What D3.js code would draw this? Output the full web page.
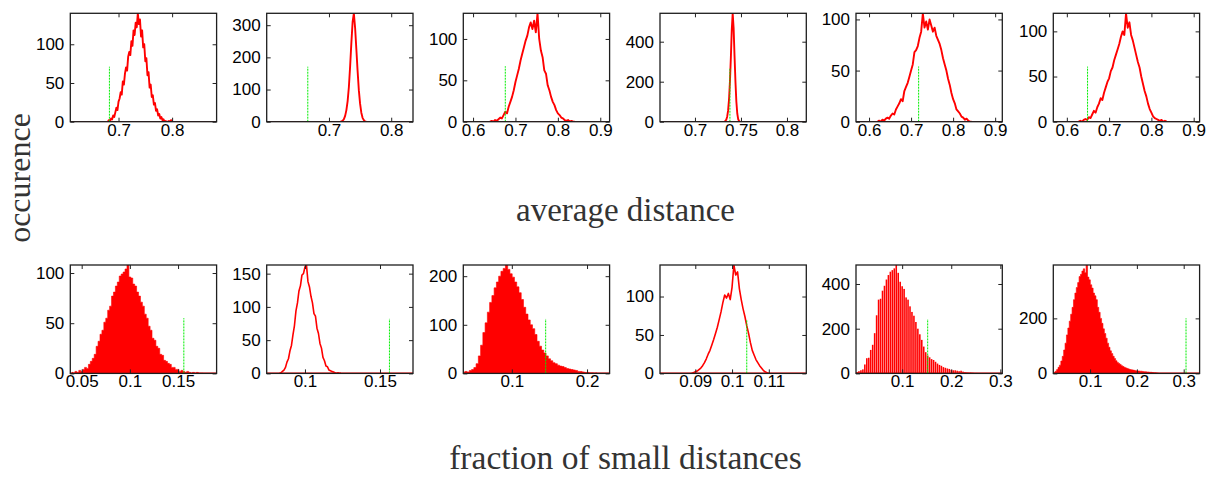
<!DOCTYPE html>
<html>
<head>
<meta charset="utf-8">
<script src="https://cdn.jsdelivr.net/npm/d3@7"></script>
<style>
  html, body { margin: 0; padding: 0; background: #fff; }
  svg { display: block; }
</style>
</head>
<body>
<svg id="fig" width="1206" height="477"></svg>
<script>
// ---------- Average distance: histogram counts per network ----------
const avgStart = [0.680, 0.718, 0.640, 0.732, 0.620, 0.628];
const avgStep  = [0.002, 0.002, 0.004, 0.001, 0.004, 0.004];
const avgCounts1 = [0,2,1,4,3,8,6,12,18,15,26,30,38,35,52,48,62,70,66,84,90,86,104,98,118,112,128,122,140,126,132,110,118,96,100,78,82,60,64,44,48,32,34,22,24,14,16,8,10,4,6,2,3,0,1,0,0,1,0,2,0];
const avgCounts2 = [0,1,3,8,18,36,64,108,172,245,310,337,292,226,158,98,56,28,12,5,1,0];
const avgCounts3 = [0,1,0,2,1,3,5,4,8,12,10,18,24,30,38,48,56,64,74,82,90,98,104,114,120,112,122,108,131,100,86,78,62,58,44,38,30,24,20,14,10,8,5,4,2,1,2,0,1,0,0];
const avgCounts4 = [0,3,10,25,55,110,200,320,460,542,470,330,200,100,40,12,3,0];
const avgCounts5 = [0,1,0,2,1,3,4,3,6,8,7,12,15,18,22,20,30,34,38,44,50,56,68,70,74,82,88,106,92,98,90,100,94,88,92,84,80,76,70,62,56,50,42,36,28,22,18,12,10,8,5,4,2,3,1,0,0];
const avgCounts6 = [0,1,0,2,3,2,5,4,8,12,10,16,20,26,24,32,38,44,48,56,60,68,74,80,86,94,100,96,120,104,110,96,90,82,74,66,60,50,42,34,28,20,14,10,6,4,3,2,1,2,0,1,0];
const avgXLim = [[0.610,0.883],[0.600,0.835],[0.577,0.922],[0.662,0.821],[0.569,0.917],[0.568,0.914]];
const avgYMax = [140, 337, 131, 542, 106, 120];
const avgXTicks = [[0.7,0.8],[0.7,0.8],[0.6,0.7,0.8,0.9],[0.7,0.75,0.8],[0.6,0.7,0.8,0.9],[0.6,0.7,0.8,0.9]];
const avgYTicks = [[0,50,100],[0,100,200,300],[0,50,100],[0,200,400],[0,50,100],[0,50,100]];
// observed value of the real network and the height of its marker
const avgObserved = [0.683, 0.666, 0.676, 0.738, 0.718, 0.649];
const avgObservedMark = [71, 171, 67, 267, 54, 61];

// ---------- Fraction of small distances ----------
const fracStart = [0.040, 0.083, 0.036, 0.0890, 0.008, 0.024];
const fracStep  = [0.002, 0.001, 0.003, 0.0005, 0.004, 0.003];
const fracCounts1 = [1,0,2,1,3,2,4,6,5,9,12,15,19,27,32,39,43,51,55,63,67,77,81,87,91,97,99,101,104,108,96,95,89,87,81,77,71,67,59,55,47,43,35,33,27,25,19,18,13,12,10,9,6,6,4,4,2,3,2,1,2,1,0,1,0,1,0,0,0];
const fracCounts2 = [0,1,3,5,9,17,22,34,42,58,72,94,106,124,132,148,150,160,163,138,130,116,106,90,86,68,60,45,38,24,19,11,10,5,4,3,2,1,0,1,0,0];
const fracCounts3 = [2,4,3,6,8,12,20,36,58,84,104,126,146,160,176,188,200,210,216,223,214,205,198,188,178,166,152,136,122,110,100,92,80,66,56,48,42,36,30,26,22,20,17,15,14,12,10,9,8,7,6,4,4,3,2,2,1,1,0,1];
const fracCounts4 = [0,1,2,3,5,7,10,14,19,25,30,37,44,52,60,70,80,92,102,98,104,96,112,141,128,132,110,96,84,74,62,52,40,30,24,18,14,10,7,4,2,1,0];
const fracCounts5 = [6,10,14,18,40,68,70,105,128,180,260,330,334,370,392,420,440,455,462,470,485,450,410,390,378,340,330,300,275,258,230,200,175,150,120,95,80,72,64,60,52,44,38,34,28,25,22,20,16,14,14,12,10,12,8,6,5,4,4,3,2,2,1,1];
const fracCounts6 = [4,8,14,22,30,45,62,85,110,140,165,190,215,240,268,292,312,330,352,360,372,380,366,394,350,340,322,310,292,282,268,240,222,200,182,162,145,128,110,95,82,72,62,54,46,40,36,32,28,25,22,20,18,16,14,13,12,11,10,9,9,8,8,7,6,6,5,5,4,4,3,2,2,1,1];
const fracXLim = [[0.0382,0.190],[0.0745,0.172],[0.0355,0.230],[0.0804,0.1202],[0.006,0.304],[0.0214,0.334]];
const fracYMax = [108, 163, 223, 141, 485, 394];
const fracXTicks = [[0.05,0.1,0.15],[0.1,0.15],[0.1,0.2],[0.09,0.1,0.11],[0.1,0.2,0.3],[0.1,0.2,0.3]];
const fracYTicks = [[0,50,100],[0,50,100,150],[0,100,200],[0,50,100],[0,200,400],[0,200]];
const fracObserved = [0.156, 0.1563, 0.145, 0.104, 0.152, 0.305];
const fracObservedMark = [55, 82, 112, 70, 243, 200];
const fracStyle = ["area", "line", "area", "line", "bars", "area"];

// ---------- layout ----------
const panelLeft = [70.3, 266.7, 463.3, 660, 856, 1053.3];
const panelW = 146.3, panelH = 108.4;
const rowTop = [13.3, 265];

const avgSeries = [avgCounts1, avgCounts2, avgCounts3, avgCounts4, avgCounts5, avgCounts6];
const fracSeries = [fracCounts1, fracCounts2, fracCounts3, fracCounts4, fracCounts5, fracCounts6];

const panels = [];
avgSeries.forEach((counts, i) => panels.push({
  row: 0, col: i, counts, start: avgStart[i], step: avgStep[i], style: "line",
  xlim: avgXLim[i], ymax: avgYMax[i], xticks: avgXTicks[i], yticks: avgYTicks[i],
  obs: avgObserved[i], obsMark: avgObservedMark[i]
}));
fracSeries.forEach((counts, i) => panels.push({
  row: 1, col: i, counts, start: fracStart[i], step: fracStep[i], style: fracStyle[i],
  xlim: fracXLim[i], ymax: fracYMax[i], xticks: fracXTicks[i], yticks: fracYTicks[i],
  obs: fracObserved[i], obsMark: fracObservedMark[i]
}));

const svg = d3.select("#fig");
const fmt = v => String(+v.toFixed(4));
const RED = "#ff0000";
const tickFont = "'Liberation Sans', Arial, sans-serif";

panels.forEach((p, k) => {
  const g = svg.append("g")
    .attr("transform", `translate(${panelLeft[p.col]},${rowTop[p.row]})`);
  const x = d3.scaleLinear().domain(p.xlim).range([0, panelW]);
  const y = d3.scaleLinear().domain([0, p.ymax]).range([panelH, 0]);

  const clipId = "clip" + k;
  g.append("clipPath").attr("id", clipId)
    .append("rect").attr("x", 0).attr("y", 0).attr("width", panelW).attr("height", panelH);
  const plot = g.append("g").attr("clip-path", `url(#${clipId})`);

  const bins = p.counts.map((c, i) => ({ v: p.start + i * p.step, c }));

  // histogram is zero outside the sampled range
  plot.append("line")
    .attr("x1", x(p.xlim[0])).attr("x2", x(p.xlim[1]))
    .attr("y1", y(0)).attr("y2", y(0))
    .attr("stroke", RED).attr("stroke-width", 1.6);

  if (p.style === "line") {
    plot.append("path").datum(bins)
      .attr("fill", "none").attr("stroke", RED)
      .attr("stroke-width", p.row === 0 ? 1.9 : 1.6).attr("stroke-linejoin", "round")
      .attr("d", d3.line().x(d => x(d.v)).y(d => y(d.c)));
  } else if (p.style === "area") {
    plot.append("path").datum(bins)
      .attr("fill", RED).attr("stroke", RED).attr("stroke-width", 0.6)
      .attr("d", d3.area().curve(d3.curveStep)
        .x(d => x(d.v)).y0(y(0)).y1(d => y(d.c)));
  } else {
    const bw = x(p.xlim[0] + p.step) - x(p.xlim[0]);
    plot.selectAll("rect.bar").data(bins).join("rect")
      .attr("class", "bar")
      .attr("x", d => x(d.v) - bw * 0.4)
      .attr("width", bw * 0.8)
      .attr("y", d => y(d.c))
      .attr("height", d => y(0) - y(d.c))
      .attr("fill", RED);
  }

  // value of the real network
  plot.append("line")
    .attr("x1", x(p.obs)).attr("x2", x(p.obs))
    .attr("y1", y(0)).attr("y2", y(p.obsMark))
    .attr("stroke", "#00ee00").attr("stroke-width", 1)
    .attr("stroke-dasharray", "2,1");

  // axes: ticks point inward on all four sides
  const axB = g.append("g").attr("transform", `translate(0,${panelH})`)
    .call(d3.axisBottom(x).tickValues(p.xticks).tickFormat(fmt)
      .tickSizeInner(-4).tickSizeOuter(0).tickPadding(2));
  const axT = g.append("g")
    .call(d3.axisTop(x).tickValues(p.xticks).tickFormat("")
      .tickSizeInner(-4).tickSizeOuter(0));
  const axL = g.append("g")
    .call(d3.axisLeft(y).tickValues(p.yticks).tickFormat(fmt)
      .tickSizeInner(-4).tickSizeOuter(0).tickPadding(6));
  const axR = g.append("g").attr("transform", `translate(${panelW},0)`)
    .call(d3.axisRight(y).tickValues(p.yticks).tickFormat("")
      .tickSizeInner(-4).tickSizeOuter(0));
  [axB, axT, axL, axR].forEach(a => {
    a.select(".domain").remove();
    a.selectAll(".tick line").attr("stroke", "#222").attr("stroke-width", 1);
    a.selectAll(".tick text").attr("font-family", tickFont)
      .attr("font-size", 17).attr("fill", "#000");
  });

  g.append("rect")
    .attr("x", 0).attr("y", 0).attr("width", panelW).attr("height", panelH)
    .attr("fill", "none").attr("stroke", "#1e1e1e").attr("stroke-width", 1.3);
});

// ---------- shared axis titles ----------
const serif = "'Liberation Serif', 'Times New Roman', serif";
svg.append("text")
  .attr("x", 625.5).attr("y", 221)
  .attr("text-anchor", "middle")
  .attr("font-family", serif).attr("font-size", 33).attr("fill", "#333")
  .text("average distance");
svg.append("text")
  .attr("x", 625.5).attr("y", 469)
  .attr("text-anchor", "middle")
  .attr("font-family", serif).attr("font-size", 33.5).attr("fill", "#333")
  .text("fraction of small distances");
svg.append("text")
  .attr("transform", "translate(30,178) rotate(-90)")
  .attr("text-anchor", "middle")
  .attr("font-family", serif).attr("font-size", 32).attr("fill", "#333")
  .text("occurence");
</script>
</body>
</html>
